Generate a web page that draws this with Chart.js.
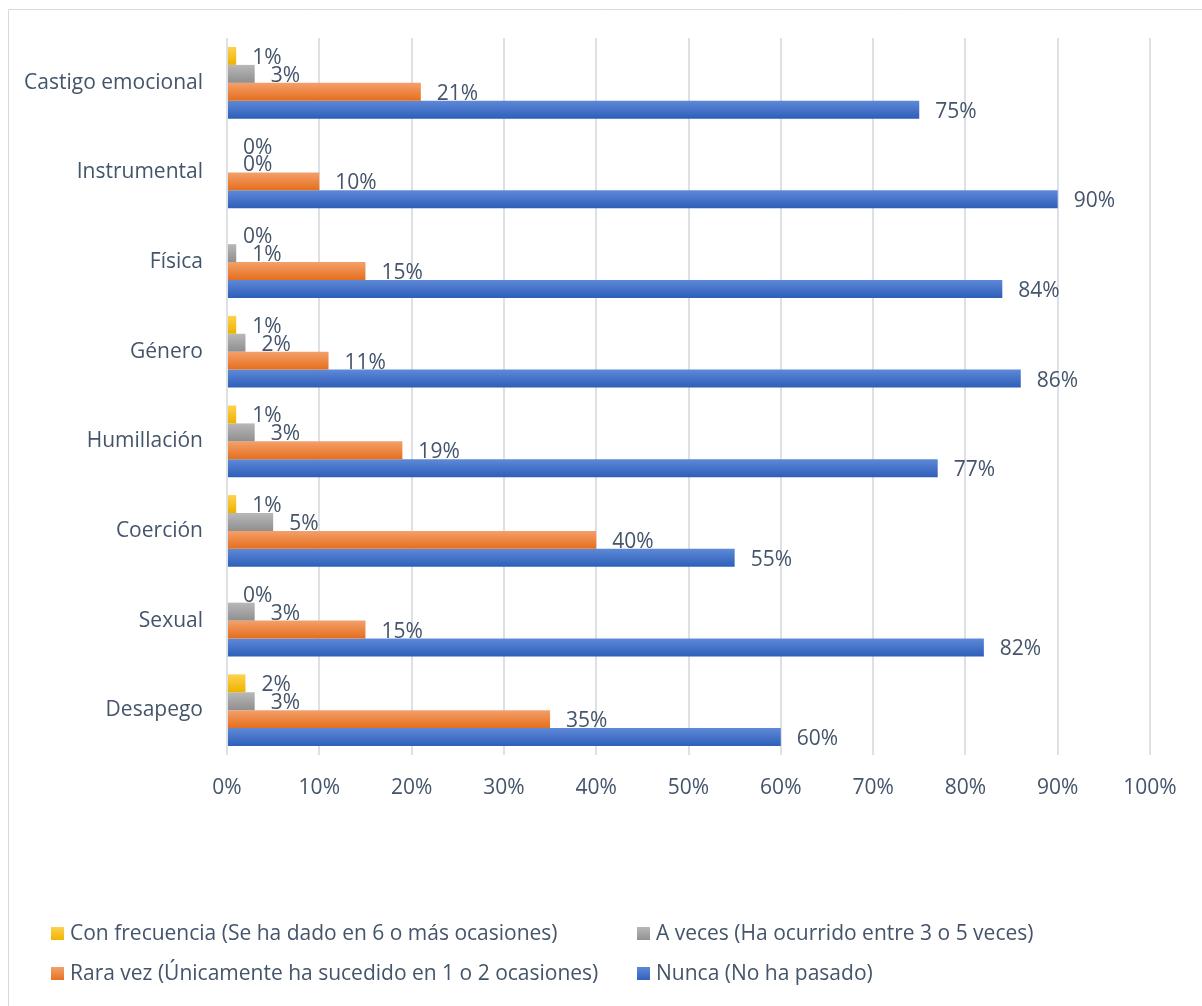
<!DOCTYPE html>
<html>
<head>
<meta charset="utf-8">
<script src="https://cdn.jsdelivr.net/npm/chart.js@4.4.1/dist/chart.umd.min.js"></script>
<style>
    body { margin: 0; background: #fff; }
    #wrap { position: relative; width: 1202px; height: 1006px; }
</style>
</head>
<body>
<div id="wrap"><canvas id="grafico" width="1202" height="1006"></canvas></div>
<script>
// Categorias (de cima para baixo) e valores de cada série, em %
const categorias = ['Castigo emocional', 'Instrumental', 'Física', 'Género', 'Humillación', 'Coerción', 'Sexual', 'Desapego'];
const conFrecuencia = [1, 0, 0, 1, 1, 1, 0, 2];
const aVeces = [3, 0, 1, 2, 3, 5, 3, 3];
const raraVez = [21, 10, 15, 11, 19, 40, 15, 35];
const nunca = [75, 90, 84, 86, 77, 55, 82, 60];
const ticksX = [0, 10, 20, 30, 40, 50, 60, 70, 80, 90, 100];

const corTexto = '#44546A';
const fonte = '"Open Sans", "Noto Sans", sans-serif';

// Moldura cinza em volta do gráfico
const molduraPlugin = {
    id: 'moldura',
    beforeDraw(chart) {
        const ctx = chart.ctx;
        ctx.save();
        ctx.fillStyle = '#fff';
        ctx.fillRect(0, 0, chart.width, chart.height);
        ctx.strokeStyle = '#D9D9D9';
        ctx.lineWidth = 1;
        ctx.beginPath();
        ctx.moveTo(8.5, chart.height);
        ctx.lineTo(8.5, 9.5);
        ctx.lineTo(chart.width, 9.5);
        ctx.stroke();
        ctx.restore();
    }
};

// Gradiente vertical em cada barra
const gradientePlugin = {
    id: 'gradiente',
    beforeDatasetsDraw(chart) {
        const ctx = chart.ctx;
        chart.data.datasets.forEach((ds, i) => {
            const meta = chart.getDatasetMeta(i);
            meta.data.forEach(bar => {
                const topo = bar.y - bar.height / 2;
                const g = ctx.createLinearGradient(0, topo, 0, topo + bar.height);
                g.addColorStop(0, ds.corTopo);
                g.addColorStop(1, ds.corBase);
                bar.options = Object.assign({}, bar.options, { backgroundColor: g });
            });
        });
    }
};

// Rótulos de valor à direita de cada barra
const rotulosPlugin = {
    id: 'rotulos',
    afterDatasetsDraw(chart) {
        const ctx = chart.ctx;
        ctx.save();
        ctx.font = '21px ' + fonte;
        ctx.fillStyle = corTexto;
        ctx.textAlign = 'left';
        ctx.textBaseline = 'middle';
        chart.data.datasets.forEach((ds, i) => {
            const meta = chart.getDatasetMeta(i);
            meta.data.forEach((bar, j) => {
                ctx.fillText(ds.data[j] + '%', bar.x + 16, bar.y + 2);
            });
        });
        ctx.restore();
    }
};

// Legenda em duas colunas
const legendaPlugin = {
    id: 'legenda2col',
    afterDraw(chart) {
        const ctx = chart.ctx;
        const colunas = [51, 637];
        const linhas = [934, 974];
        ctx.save();
        ctx.font = '21px ' + fonte;
        ctx.textAlign = 'left';
        ctx.textBaseline = 'middle';
        chart.data.datasets.forEach((ds, i) => {
            const x = colunas[i % 2];
            const y = linhas[Math.floor(i / 2)];
            const g = ctx.createLinearGradient(0, y - 7, 0, y + 7);
            g.addColorStop(0, ds.corTopo);
            g.addColorStop(1, ds.corBase);
            ctx.fillStyle = g;
            ctx.fillRect(x, y - 7, 13, 13);
            ctx.fillStyle = corTexto;
            ctx.fillText(ds.label, x + 19, y);
        });
        ctx.restore();
    }
};

new Chart(document.getElementById('grafico'), {
    type: 'bar',
    data: {
        labels: categorias,
        datasets: [
            { label: 'Con frecuencia (Se ha dado en 6 o más ocasiones)', data: conFrecuencia, corTopo: '#FFD24D', corBase: '#EDB200', backgroundColor: '#FFC000' },
            { label: 'A veces (Ha ocurrido entre 3 o 5 veces)', data: aVeces, corTopo: '#B8B8B8', corBase: '#8F8F8F', backgroundColor: '#A5A5A5' },
            { label: 'Rara vez (Únicamente ha sucedido en 1 o 2 ocasiones)', data: raraVez, corTopo: '#F4A06B', corBase: '#E56E1C', backgroundColor: '#ED7D31' },
            { label: 'Nunca (No ha pasado)', data: nunca, corTopo: '#5E89D8', corBase: '#2E5EB8', backgroundColor: '#4472C4' }
        ]
    },
    options: {
        indexAxis: 'y',
        responsive: false,
        animation: false,
        devicePixelRatio: 1,
        layout: { padding: { top: 38, right: 52, left: 0, bottom: 0 } },
        datasets: {
            bar: { categoryPercentage: 0.8, barPercentage: 1.0, borderWidth: 0 }
        },
        scales: {
            x: {
                min: 0,
                max: 100,
                afterBuildTicks(scale) {
                    scale.ticks = ticksX.map(v => ({ value: v }));
                },
                afterFit(scale) { scale.height = 251; },
                grid: { color: '#DDE1E6', lineWidth: 2, drawTicks: false },
                border: { display: false },
                ticks: {
                    padding: 20,
                    color: corTexto,
                    font: { family: fonte, size: 21 },
                    callback: v => v + '%'
                }
            },
            y: {
                afterFit(scale) { scale.width = 227; },
                grid: { display: false, drawTicks: false },
                border: { display: false },
                ticks: {
                    padding: 24,
                    color: corTexto,
                    font: { family: fonte, size: 21 }
                }
            }
        },
        plugins: {
            legend: { display: false },
            tooltip: { enabled: false }
        }
    },
    plugins: [molduraPlugin, gradientePlugin, rotulosPlugin, legendaPlugin]
});
</script>
</body>
</html>
